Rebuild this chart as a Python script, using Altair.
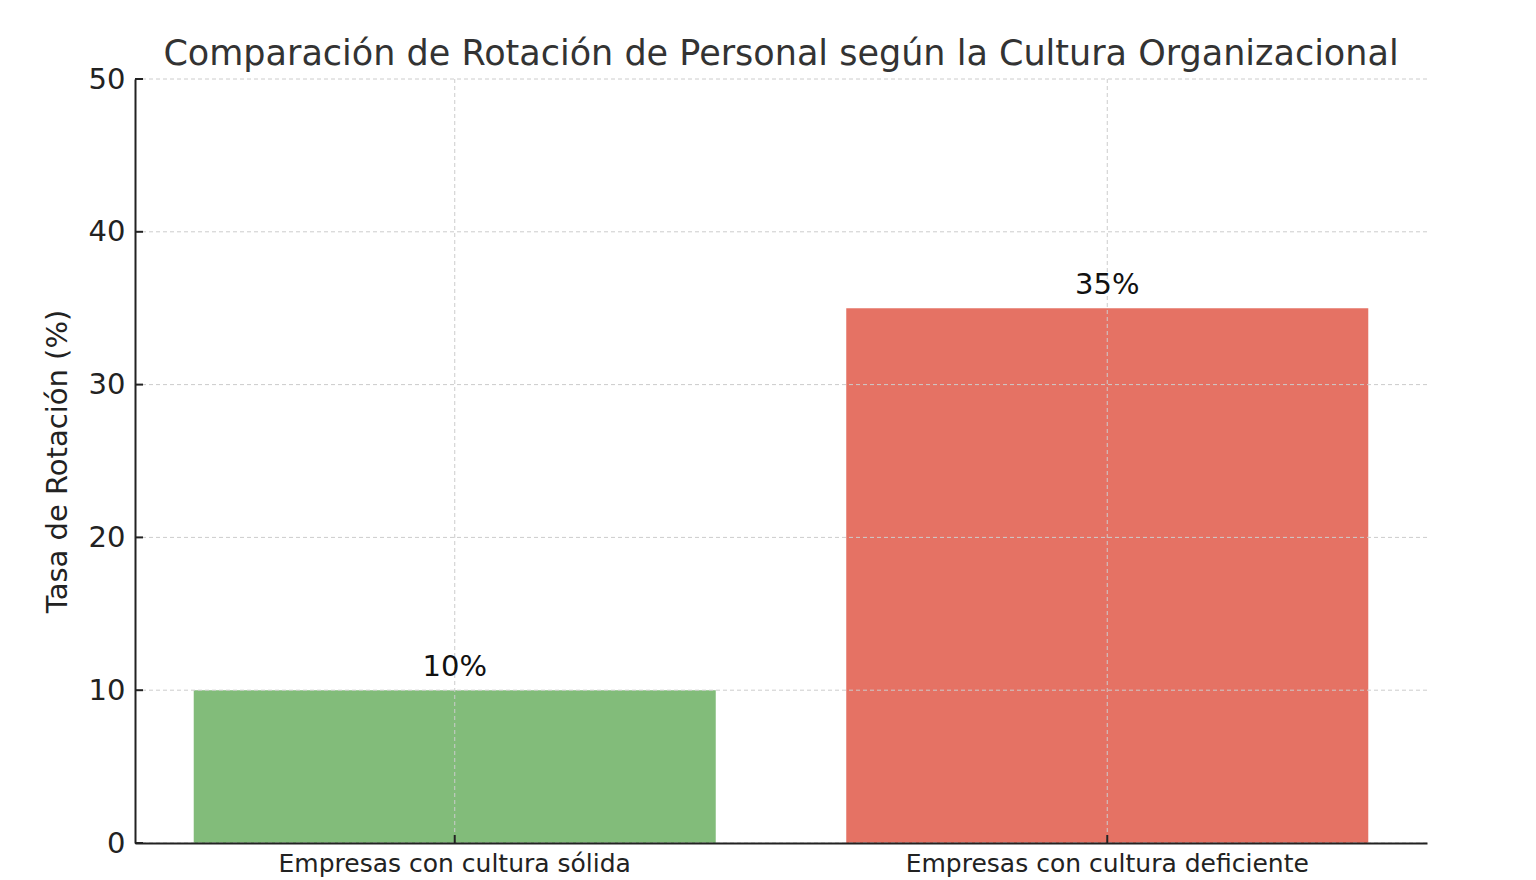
import altair as alt
import pandas as pd

categories = ["Empresas con cultura sólida", "Empresas con cultura deficiente"]
values = [10, 35]
bar_colors = ["#82BC7A", "#E57264"]
y_ticks = [0, 10, 20, 30, 40, 50]

df = pd.DataFrame({
    "cat": categories,
    "val": values,
    "label": [f"{v}%" for v in values],
    "color": bar_colors,
})
ticks_df = pd.DataFrame({"t": y_ticks})

W, H = 1292, 764
FONT = "DejaVu Sans"
GRID = "#cccccc"

xscale = alt.Scale(domain=categories, paddingInner=0.2, paddingOuter=0.09)
yscale = alt.Scale(domain=[0, 50])

x_enc = alt.X("cat:N", scale=xscale, sort=categories, axis=alt.Axis(
    title=None, labelAngle=0, labelFontSize=25, labelFont=FONT, labelColor="#222",
    labelPadding=8, ticks=False, domainColor="#222", domainWidth=2,
    grid=False, zindex=1, labelLimit=1000,
))
y_enc = alt.Y("val:Q", scale=yscale, axis=alt.Axis(
    title="Tasa de Rotación (%)", titleFontSize=29, titleFont=FONT, titleColor="#222",
    titleFontWeight="normal", titlePadding=16,
    values=y_ticks, labelFontSize=29, labelFont=FONT, labelColor="#222",
    labelPadding=10, ticks=False, domainColor="#222", domainWidth=2,
    grid=False, zindex=1,
))

bars = alt.Chart(df).mark_bar().encode(
    x=x_enc, y=y_enc,
    color=alt.Color("color:N", scale=None),
)

ygrid = alt.Chart(ticks_df).mark_rule(color=GRID, strokeWidth=1, strokeDash=[4, 3]).encode(
    y=alt.Y("t:Q", scale=yscale),
    x=alt.value(0), x2=alt.value(W),
)
xgrid = alt.Chart(df).mark_rule(color=GRID, strokeWidth=1, strokeDash=[4, 3]).encode(
    x=alt.X("cat:N", scale=xscale, sort=categories),
    y=alt.value(0), y2=alt.value(H),
)

text = alt.Chart(df).mark_text(
    font=FONT, fontSize=29, color="#111", baseline="bottom", dy=-8
).encode(
    x=alt.X("cat:N", scale=xscale, sort=categories),
    y=alt.Y("val:Q", scale=yscale),
    text="label:N",
)

ytick_marks = alt.Chart(ticks_df).mark_rule(color="#222", strokeWidth=2).encode(
    y=alt.Y("t:Q", scale=yscale),
    x=alt.value(0), x2=alt.value(8),
)

xtick_marks = alt.Chart(df).mark_rule(color="#222", strokeWidth=2).encode(
    x=alt.X("cat:N", scale=xscale, sort=categories),
    y=alt.value(H), y2=alt.value(H - 8),
)

chart = alt.layer(bars, ygrid, xgrid, text, ytick_marks, xtick_marks).properties(
    width=W, height=H,
    background="white",
    title=alt.TitleParams(
        "Comparación de Rotación de Personal según la Cultura Organizacional",
        font=FONT, fontSize=35, fontWeight="normal", color="#333",
        anchor="middle", offset=-7,
    ),
    autosize=alt.AutoSizeParams(type="none"),
    padding={"left": 135, "top": 79, "right": 109, "bottom": 37},
).configure_view(stroke=None)

chart.save("out.html", embed_options={"renderer": "svg", "actions": False})
